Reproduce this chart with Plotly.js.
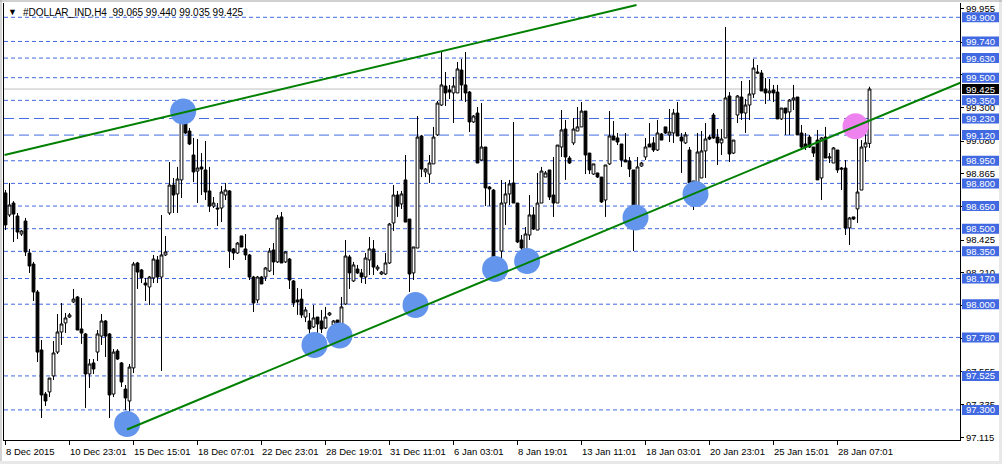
<!DOCTYPE html>
<html><head><meta charset="utf-8">
<script src="https://cdn.plot.ly/plotly-3.0.1.min.js"></script>
<style>html,body{margin:0;padding:0;background:#fff;overflow:hidden}#chart{width:1002px;height:464px}</style>
</head><body><div id="chart"></div>
<script>
// ---- data (H4 candles) ----
const openP = [98.737,98.591,98.670,98.584,98.465,98.551,98.339,98.266,98.081,97.697,97.405,97.419,97.525,97.683,97.816,97.876,97.915,98.015,98.048,97.836,97.803,97.538,97.611,97.683,97.789,97.889,97.803,97.405,97.690,97.611,97.438,97.359,97.578,98.273,98.227,98.140,98.114,98.174,98.293,98.180,98.326,98.604,98.789,98.730,98.823,99.260,99.147,98.988,98.882,98.909,98.889,98.750,98.650,98.637,98.637,98.723,98.750,98.366,98.339,98.452,98.366,98.326,98.180,98.028,98.180,98.180,98.220,98.359,98.280,98.578,98.280,98.299,98.154,98.028,98.034,97.915,97.889,97.849,97.915,97.889,97.842,97.929,97.862,97.895,97.809,98.001,98.313,98.154,98.233,98.207,98.180,98.293,98.366,98.233,98.200,98.200,98.273,98.538,98.723,98.664,98.823,98.564,98.207,98.372,99.114,98.876,98.862,98.929,99.121,99.319,99.445,99.419,99.399,99.399,99.551,99.452,99.405,99.207,99.266,98.955,99.041,98.776,98.756,98.220,98.352,98.670,98.730,98.803,98.670,98.425,98.313,98.458,98.591,98.491,98.670,98.842,98.889,98.723,98.670,99.041,99.160,98.968,99.068,99.147,99.174,99.279,99.001,98.862,98.869,98.842,98.690,98.929,99.114,99.101,99.061,98.955,98.948,98.889,98.604,98.915,98.975,99.061,99.068,99.021,99.127,99.174,99.121,99.134,99.266,99.107,99.068,99.021,98.816,98.697,98.836,99.015,99.107,99.253,99.107,99.068,99.101,99.379,99.001,99.253,99.372,99.266,99.319,99.392,99.538,99.531,99.425,99.399,99.419,99.405,99.227,99.299,99.273,99.352,99.372,99.134,99.061,99.107,99.041,99.087,98.836,99.107,98.968,98.935,99.021,98.902,98.902,98.505,98.578,98.631,98.756,99.041,99.065];
const highP = [98.756,98.803,98.683,98.604,98.491,98.571,98.366,98.280,98.094,97.763,97.419,97.511,97.756,97.935,98.008,97.942,97.942,98.101,98.054,98.041,97.809,97.637,97.637,97.829,97.935,97.895,97.809,97.703,97.703,97.617,97.465,97.604,98.280,98.280,98.233,98.174,98.187,98.326,98.319,98.591,98.452,98.942,98.836,98.909,99.299,99.293,99.167,99.101,99.094,99.001,99.081,98.909,98.710,98.670,98.783,98.803,98.756,98.372,98.412,98.452,98.465,98.333,98.187,98.187,98.187,98.246,98.372,98.405,98.591,98.611,98.352,98.306,98.160,98.107,98.101,97.982,97.942,97.995,97.915,97.962,97.982,97.948,97.895,97.895,98.048,98.425,98.326,98.280,98.260,98.233,98.339,98.445,98.425,98.260,98.220,98.339,98.538,98.789,98.750,98.750,98.988,98.564,98.379,99.246,99.121,98.902,98.988,99.174,99.346,99.670,99.538,99.452,99.505,99.604,99.624,99.670,99.412,99.253,99.306,99.332,99.041,98.783,98.763,98.306,98.823,98.809,98.823,99.207,98.670,98.458,98.511,98.723,98.644,98.869,98.909,98.882,98.889,98.975,99.054,99.286,99.220,98.982,99.233,99.306,99.339,99.279,99.001,98.929,98.869,98.842,98.922,99.279,99.213,99.134,99.061,99.134,98.975,98.889,98.975,98.942,99.101,99.200,99.107,99.220,99.134,99.174,99.293,99.293,99.339,99.134,99.140,99.041,98.816,99.134,99.147,99.200,99.121,99.266,99.160,99.160,99.836,99.405,99.087,99.385,99.478,99.359,99.485,99.624,99.584,99.551,99.498,99.491,99.452,99.452,99.299,99.299,99.359,99.452,99.372,99.187,99.134,99.121,99.041,99.154,99.107,99.174,99.001,99.041,99.021,98.909,98.955,98.578,98.578,99.233,99.087,99.187,99.440];
const lowP = [98.491,98.578,98.412,98.432,98.452,98.319,98.207,98.021,97.617,97.246,97.326,97.385,97.498,97.670,97.730,97.809,97.909,98.008,97.829,97.737,97.313,97.445,97.538,97.624,97.730,97.650,97.246,97.385,97.631,97.452,97.299,97.180,97.544,98.101,98.140,98.021,97.995,98.140,98.140,97.558,98.319,98.591,98.604,98.604,98.703,99.127,99.054,98.809,98.670,98.723,98.690,98.611,98.637,98.518,98.544,98.690,98.240,98.293,98.333,98.379,98.293,98.160,97.948,98.008,98.134,98.154,98.213,98.193,98.273,98.273,98.273,98.101,97.982,97.929,97.909,97.882,97.803,97.842,97.809,97.809,97.836,97.922,97.836,97.803,97.803,97.995,98.101,98.147,98.200,98.140,98.134,98.193,98.193,98.220,98.193,98.193,98.266,98.485,98.578,98.631,98.544,98.081,98.160,98.372,98.842,98.842,98.803,98.929,99.114,99.313,99.313,99.359,99.200,99.399,99.352,99.339,99.140,99.200,98.935,98.948,98.650,98.650,98.180,98.207,98.293,98.525,98.657,98.670,98.405,98.339,98.293,98.425,98.491,98.491,98.670,98.842,98.690,98.578,98.670,98.975,98.823,98.929,99.054,99.147,99.174,98.862,98.862,98.856,98.836,98.670,98.578,98.922,99.087,99.054,98.909,98.942,98.842,98.352,98.491,98.909,98.955,99.041,99.008,99.015,99.087,99.127,99.074,99.068,99.114,98.869,99.061,98.737,98.624,98.690,98.836,98.836,99.087,99.094,98.922,98.988,99.101,98.942,98.995,99.200,99.220,99.134,99.220,99.366,99.525,99.412,99.326,99.352,99.339,99.227,99.220,99.121,99.121,99.286,99.121,99.021,99.021,99.035,98.975,98.823,98.690,98.968,98.935,98.935,98.869,98.756,98.458,98.392,98.558,98.538,98.756,98.942,99.035];
const closeP = [98.525,98.657,98.597,98.478,98.485,98.346,98.253,98.081,97.683,97.399,97.359,97.511,97.677,97.816,97.869,97.909,97.929,98.034,97.829,97.809,97.538,97.604,97.571,97.803,97.889,97.789,97.399,97.683,97.637,97.485,97.379,97.584,98.266,98.213,98.174,98.127,98.180,98.299,98.180,98.326,98.346,98.789,98.723,98.829,99.240,99.134,99.061,98.876,98.902,98.895,98.743,98.650,98.670,98.631,98.743,98.756,98.352,98.339,98.405,98.379,98.326,98.180,98.008,98.180,98.134,98.240,98.352,98.280,98.571,98.273,98.346,98.160,98.008,98.015,97.929,97.962,97.836,97.909,97.869,97.836,97.915,97.942,97.889,97.809,97.982,98.319,98.207,98.260,98.207,98.180,98.306,98.366,98.246,98.246,98.213,98.273,98.531,98.723,98.650,98.730,98.544,98.200,98.379,99.107,98.895,98.895,98.935,99.107,99.332,99.452,99.399,99.405,99.445,99.558,99.452,99.399,99.207,99.246,98.935,99.041,98.770,98.763,98.227,98.293,98.670,98.730,98.796,98.670,98.412,98.372,98.465,98.591,98.498,98.670,98.882,98.869,98.710,98.670,99.054,99.154,98.975,98.935,99.160,99.174,99.279,98.988,98.889,98.929,98.842,98.677,98.922,99.114,99.087,99.074,98.955,98.942,98.895,98.578,98.909,98.935,99.041,99.041,99.021,99.134,99.087,99.134,99.140,99.266,99.114,99.081,99.121,98.803,98.690,99.008,99.015,99.094,99.094,99.101,99.068,99.094,99.366,98.995,99.087,99.379,99.266,99.319,99.392,99.564,99.531,99.412,99.399,99.412,99.399,99.227,99.299,99.266,99.352,99.366,99.121,99.041,99.041,99.041,99.001,98.823,99.101,98.968,98.975,99.035,98.889,98.895,98.505,98.571,98.564,98.743,99.041,99.068,99.425];

const dateTickIdx = [0,16,32,48,64,80,96,112,128,144,160,176,192,208];
const dateTickText = ['8 Dec 2015','10 Dec 23:01','15 Dec 15:01','18 Dec 07:01','22 Dec 23:01','28 Dec 19:01','31 Dec 11:01','6 Jan 03:01','8 Jan 19:01','13 Jan 11:01','18 Jan 03:01','20 Jan 23:01','25 Jan 15:01','28 Jan 07:01'];
const priceTicks = [99.955,99.735,99.520,99.300,99.080,98.865,98.645,98.425,98.210,97.990,97.775,97.555,97.335,97.115];
const coveredTicks = [99.735,99.520,98.645,97.990,97.775];
const dashLevels = [99.900,99.740,99.630,99.500,99.350,98.950,98.800,98.650,98.500,98.350,98.170,98.000,97.780,97.525,97.300];
const longDashLevels = [99.230,99.120];
const lastPrice = 99.425;
const blueCircleX = [44.4,30.4,77.25,83.5,102.5,122.4,130.4,157.5,172.5];
const blueCircleY = [99.276,97.207,97.730,97.793,97.995,98.233,98.286,98.574,98.730];
const pinkCircleX = [212.5];
const pinkCircleY = [99.178];
const upperTrendX = [-0.25,157.75];
const upperTrendY = [98.988,99.981];
const lowerTrendX = [30.4,238.75];
const lowerTrendY = [97.170,99.467];
const headerText = '#DOLLAR_IND,H4\u00a0\u00a099.065 99.440 99.035 99.425';

// ---- layout geometry ----
const W = 1002, H = 464, ML = 4, MR = 42, MT = 3, MB = 24;
const PW = W - ML - MR, PH = H - MT - MB;
const yRange = [97.1007, 99.9947];
const xRange = [-0.375, 238.625];
const ppx = (yRange[1] - yRange[0]) / PH;
const px = p => (p - ML) / PW;
const py = p => (H - MB - p) / PH;
const FONT = 'Liberation Sans, Arial, sans-serif';
const BLUE = '#4169E1';

const idx = openP.map((_, i) => i);

const traces = [
  {type:'scatter', mode:'markers', x:blueCircleX, y:blueCircleY, hoverinfo:'skip',
   marker:{size:26, color:'#6495ED', line:{width:0}}, showlegend:false},
  {type:'scatter', mode:'markers', x:pinkCircleX, y:pinkCircleY, hoverinfo:'skip',
   marker:{size:26, color:'#EE82EE', line:{width:0}}, showlegend:false},
  {type:'candlestick', x:idx, open:openP, high:highP, low:lowP, close:closeP,
   increasing:{line:{color:'#000', width:1}, fillcolor:'#fff'},
   decreasing:{line:{color:'#000', width:1}, fillcolor:'#000'},
   whiskerwidth:0, hoverinfo:'skip', showlegend:false},
  {type:'scatter', mode:'lines', x:upperTrendX, y:upperTrendY, hoverinfo:'skip',
   line:{color:'#008000', width:2}, showlegend:false},
  {type:'scatter', mode:'lines', x:lowerTrendX, y:lowerTrendY, hoverinfo:'skip',
   line:{color:'#008000', width:2}, showlegend:false}
];

const shapes = [];
const annotations = [];
function levelLine(v, dash) {
  shapes.push({type:'line', xref:'paper', yref:'y', x0:0, x1:1, y0:v, y1:v, layer:'below',
    line:{color:BLUE, width:1, dash:dash}});
}
function priceLabel(v, bg) {
  shapes.push({type:'rect', xref:'paper', yref:'y', x0:px(962), x1:px(999),
    y0:v - 5*ppx, y1:v + 5*ppx, fillcolor:bg, line:{width:0}, layer:'above'});
  annotations.push({xref:'paper', yref:'y', x:px(980.5), y:v, xanchor:'center', yanchor:'middle',
    text:v.toFixed(3), showarrow:false, font:{family:FONT, size:9.5, color:'#fff'}});
}
dashLevels.forEach(v => levelLine(v, '4px,3px'));
longDashLevels.forEach(v => levelLine(v, '10px,5px'));
shapes.push({type:'line', xref:'paper', yref:'y', x0:0, x1:1, y0:lastPrice, y1:lastPrice, layer:'below',
  line:{color:'#C0C0C0', width:1}});
dashLevels.concat(longDashLevels).forEach(v => priceLabel(v, BLUE));
priceLabel(lastPrice, '#000');

dateTickIdx.forEach((t, k) => annotations.push({xref:'x', yref:'paper', x:t, y:py(451),
  xanchor:'left', yanchor:'middle', xshift:-1.5, text:dateTickText[k], showarrow:false,
  font:{family:FONT, size:9.5, color:'#000'}}));

annotations.push({xref:'paper', yref:'paper', x:px(21), y:py(12), xanchor:'left', yanchor:'middle',
  text:headerText, showarrow:false, font:{family:FONT, size:10, color:'#000'}});
annotations.push({xref:'paper', yref:'paper', x:px(12), y:py(12), xanchor:'center', yanchor:'middle',
  text:'▼', showarrow:false, font:{family:FONT, size:9, color:'#000'}});

// window frame
shapes.push({type:'rect', xref:'paper', yref:'paper', x0:px(0), x1:px(2), y0:py(0), y1:py(H), fillcolor:'#d4d4d4', line:{width:0}, layer:'above'});
shapes.push({type:'rect', xref:'paper', yref:'paper', x0:px(999), x1:px(W), y0:py(0), y1:py(H), fillcolor:'#e8e8e8', line:{width:0}, layer:'above'});
shapes.push({type:'rect', xref:'paper', yref:'paper', x0:px(0), x1:px(W), y0:py(461), y1:py(H), fillcolor:'#e8e8e8', line:{width:0}, layer:'above'});
shapes.push({type:'line', xref:'paper', yref:'paper', x0:px(0), x1:px(W), y0:py(1), y1:py(1), line:{color:'#a0a0a0', width:1}, layer:'above'});

const layout = {
  width:W, height:H, margin:{l:ML, r:MR, t:MT, b:MB, pad:0},
  paper_bgcolor:'#fff', plot_bgcolor:'#fff', hovermode:false, showlegend:false,
  boxgap:0,
  font:{family:FONT, size:9.5, color:'#000'},
  xaxis:{type:'linear', range:xRange, rangeslider:{visible:false}, showgrid:false, zeroline:false,
    showline:true, linecolor:'#000', linewidth:1, ticks:'outside', ticklen:4, tickcolor:'#000',
    tickmode:'array', tickvals:dateTickIdx, showticklabels:false, fixedrange:true},
  yaxis:{range:yRange, side:'right', showgrid:false, zeroline:false, showline:true, mirror:true,
    linecolor:'#000', linewidth:1, ticks:'outside', ticklen:3, tickcolor:'#000',
    tickmode:'array', tickvals:priceTicks,
    ticktext:priceTicks.map(v => coveredTicks.includes(v) ? '' : v.toFixed(3)),
    tickfont:{family:FONT, size:9.5, color:'#000'}, fixedrange:true},
  shapes:shapes, annotations:annotations
};
Plotly.newPlot('chart', traces, layout, {staticPlot:true, displayModeBar:false});
</script></body></html>
